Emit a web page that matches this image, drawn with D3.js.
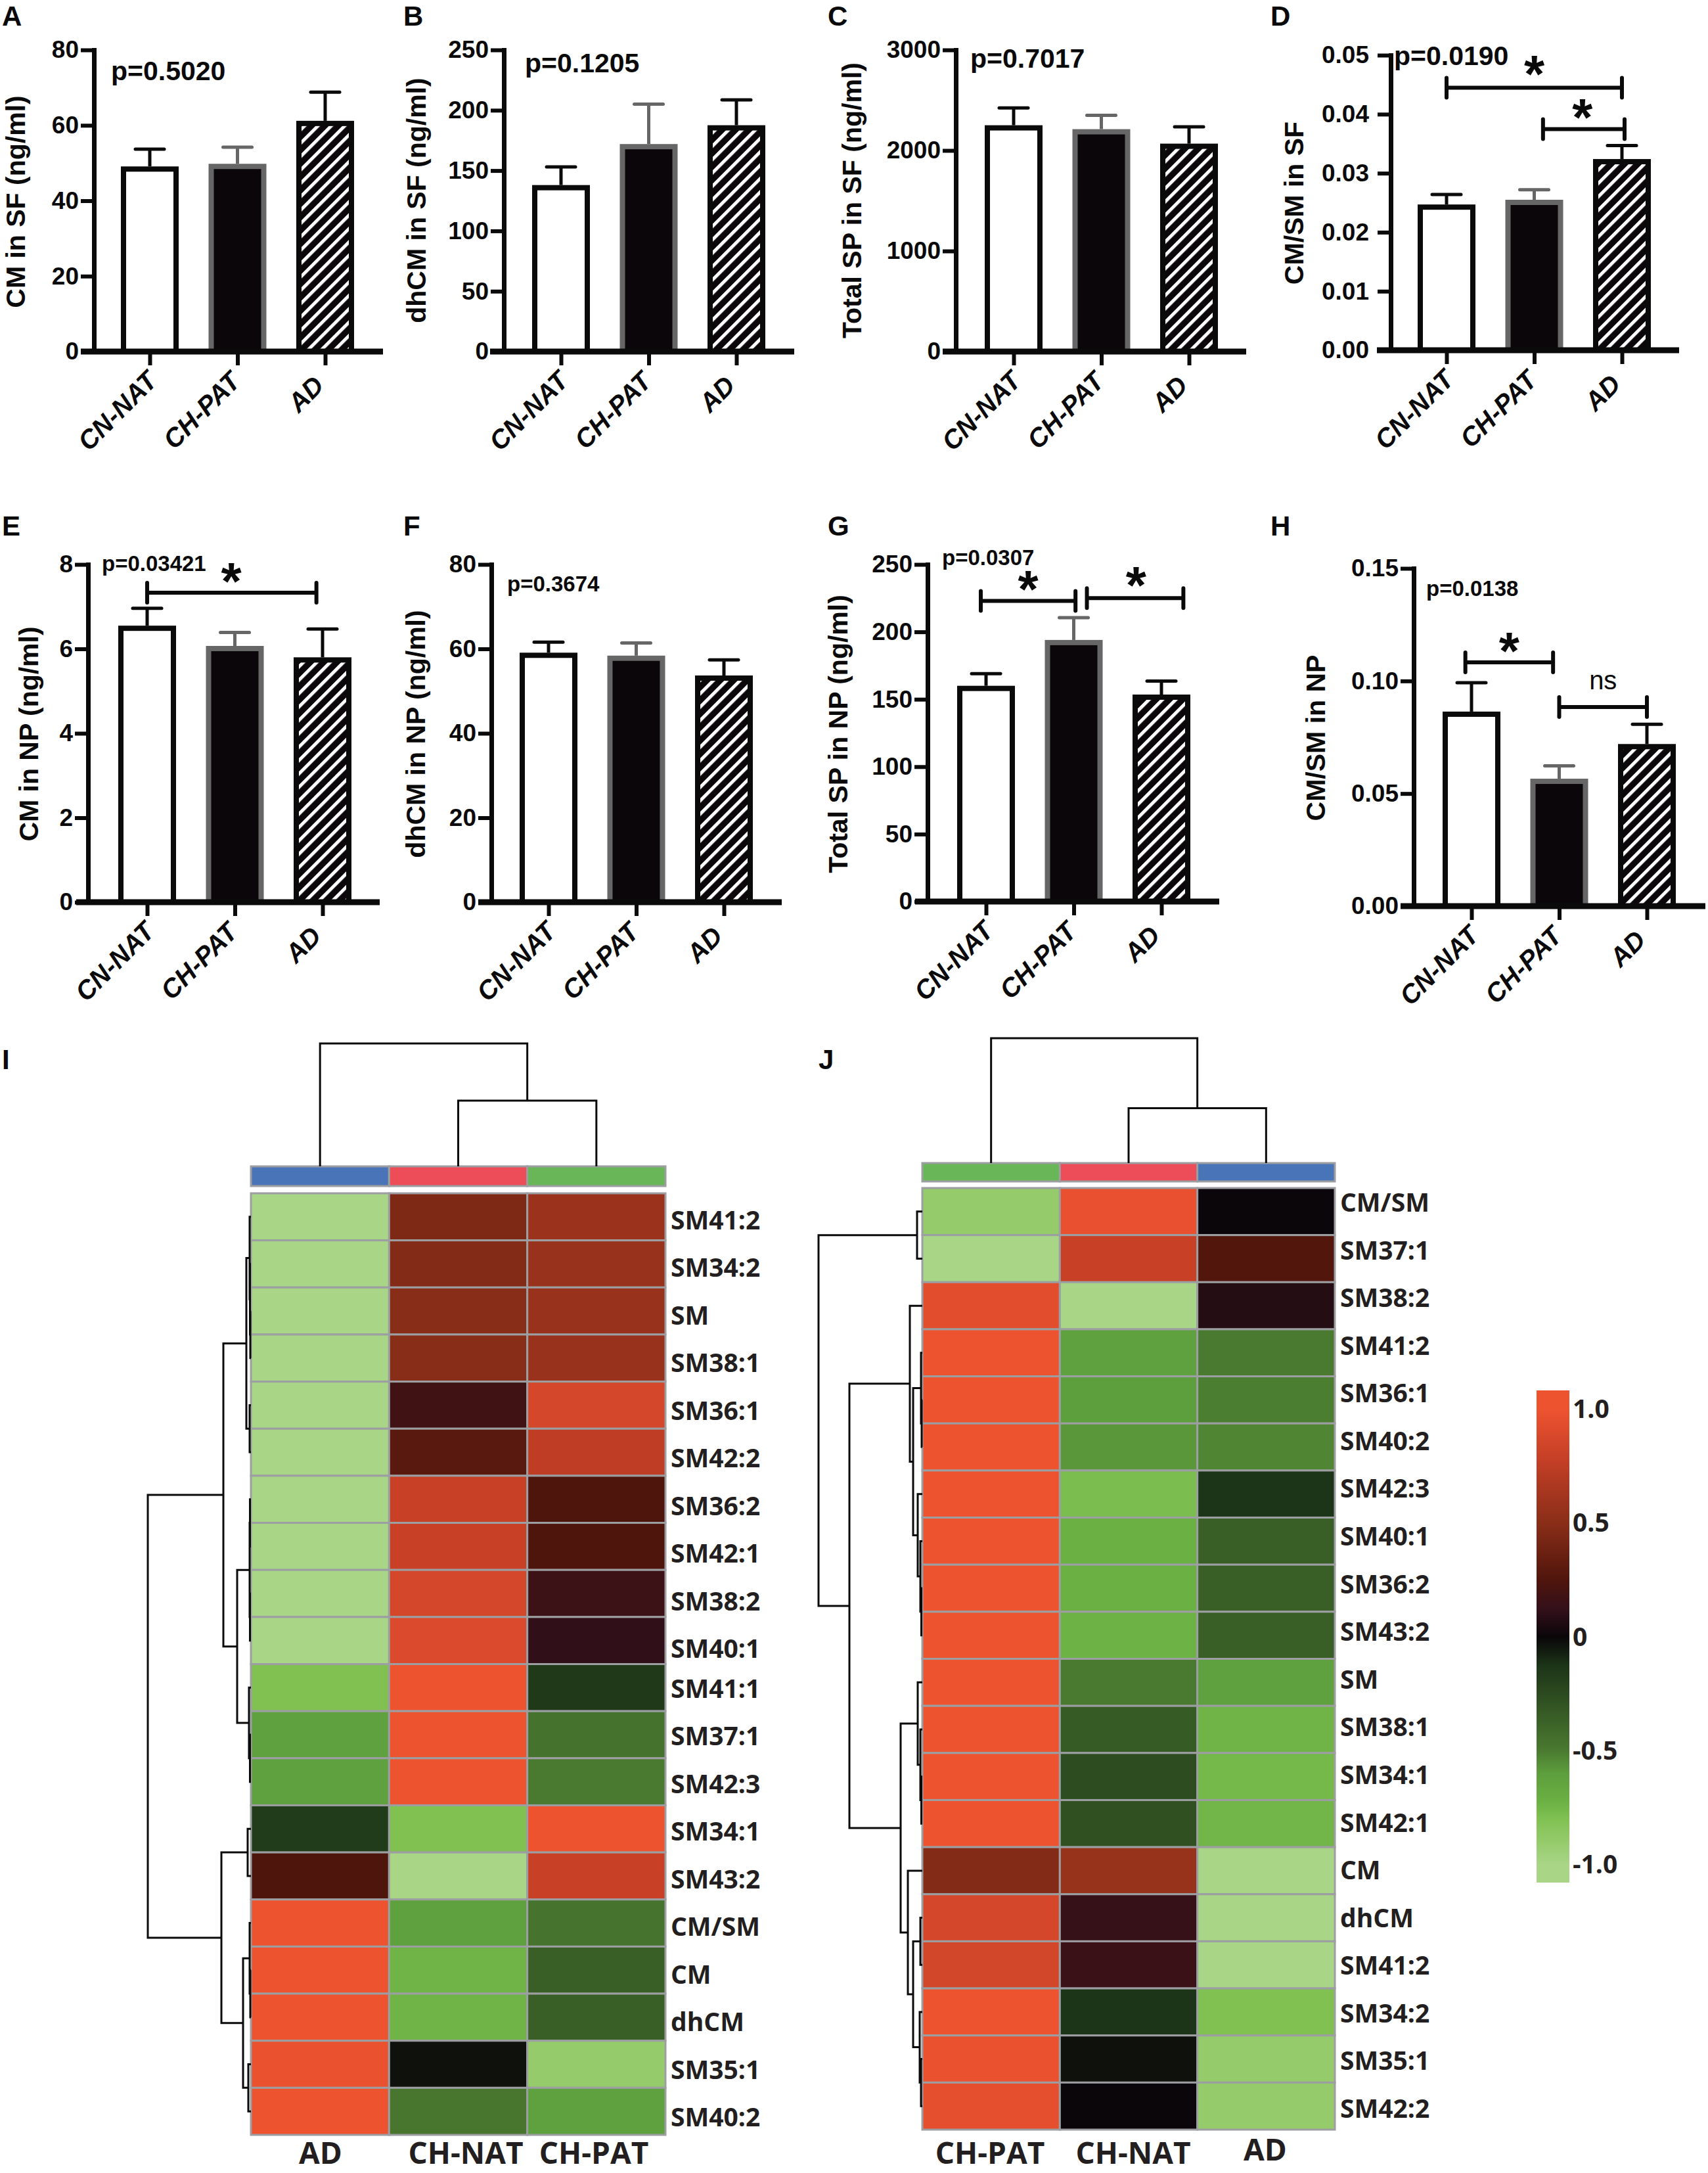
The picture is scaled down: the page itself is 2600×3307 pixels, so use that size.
<!DOCTYPE html>
<html lang="en">

<head>
    <meta charset="UTF-8">
    <title>CM, dhCM, SP bars and lipid heatmaps</title>
    <script src="https://d3js.org/d3.v7.min.js"></script>
    <style>
        body { margin: 0; background: #fff; }
        text { font-family: "Liberation Sans", Arial, sans-serif; fill: #0a0a0a; }
        .bold { font-weight: 700; }
        .hm text, text.hm { font-family: "Open Sans", sans-serif; font-weight: 700; fill: #231f20; }
    </style>
</head>

<body>

    <script>
        // ---- bar chart data ----
        const groups = ["CN-NAT", "CH-PAT", "AD"];

        const cmSF = [49.1, 49.8, 61.2], cmSFTop = [53.7, 54.2, 68.8];
        const dhcmSF = [138, 172, 187.6], dhcmSFTop = [153, 205, 208.6];
        const spSF = [2251, 2212, 2068], spSFTop = [2423, 2350, 2235];
        const ratioSF = [0.0247, 0.0255, 0.0324], ratioSFTop = [0.0264, 0.0272, 0.0347];
        const cmNP = [6.55, 6.07, 5.8], cmNPTop = [6.96, 6.39, 6.47];
        const dhcmNP = [59.1, 58.4, 53.7], dhcmNPTop = [61.6, 61.4, 57.4];
        const spNP = [160, 194, 153.5], spNPTop = [169, 210.5, 163.5];
        const ratioNP = [0.0864, 0.0566, 0.072], ratioNPTop = [0.0992, 0.0623, 0.0808];

        const ticks80 = [0, 20, 40, 60, 80];
        const ticks250 = [0, 50, 100, 150, 200, 250];
        const ticks3000 = [0, 1000, 2000, 3000];
        const ticks005 = [0, 0.01, 0.02, 0.03, 0.04, 0.05];
        const ticks8 = [0, 2, 4, 6, 8];
        const ticks015 = [0, 0.05, 0.10, 0.15];

        // ---- heatmap data ----
        const rowsI = ["SM41:2", "SM34:2", "SM", "SM38:1", "SM36:1", "SM42:2", "SM36:2", "SM42:1", "SM38:2", "SM40:1",
            "SM41:1", "SM37:1", "SM42:3", "SM34:1", "SM43:2", "CM/SM", "CM", "dhCM", "SM35:1", "SM40:2"];
        const colsI = ["AD", "CH-NAT", "CH-PAT"];
        const valuesI = [
            [-1, .45, .58], [-1, .47, .57], [-1, .49, .57], [-1, .49, .57], [-1, .18, .86],
            [-1, .29, .75], [-1, .8, .24], [-1, .8, .24], [-1, .86, .16], [-1, .9, .11],
            [-.8, 1, -.15], [-.62, 1, -.46], [-.62, 1, -.5], [-.17, -.8, 1], [.24, -1, .8],
            [1, -.62, -.47], [1, -.74, -.36], [1, -.74, -.36], [.98, -.03, -.9], [1, -.48, -.62]
        ];
        const rowsJ = ["CM/SM", "SM37:1", "SM38:2", "SM41:2", "SM36:1", "SM40:2", "SM42:3", "SM40:1", "SM36:2", "SM43:2",
            "SM", "SM38:1", "SM34:1", "SM42:1", "CM", "dhCM", "SM41:2", "SM34:2", "SM35:1", "SM42:2"];
        const colsJ = ["CH-PAT", "CH-NAT", "AD"];
        const valuesJ = [
            [-.9, .97, 0], [-1, .8, .26], [.93, -1, .08], [1, -.62, -.5], [1, -.6, -.51],
            [1, -.58, -.53], [1, -.78, -.13], [1, -.72, -.36], [1, -.72, -.36], [1, -.73, -.36],
            [1, -.5, -.62], [1, -.34, -.74], [1, -.26, -.76], [1, -.28, -.75], [.47, .56, -1],
            [.86, .14, -1], [.85, .15, -1], [1, -.13, -.8], [.98, -.03, -.9], [.96, 0, -.9]
        ];

        // dendrograms: [merge distance, child, child], a plain number is a leaf index
        const rowTreeI = [157,
            [42,
                [7, [2, 0, [1.5, 1, [1, 2, 3]]], [2, 4, 5]],
                [21, [2, [1.5, 6, 7], [1.5, 8, 9]], [3, 10, [1.5, 11, 12]]]],
            [45,
                [5, 13, 14],
                [12, [2, 15, [1, 16, 17]], [4, 18, 19]]]];
        const colTreeI = [187, 0, [100, 1, 2]];
        const rowTreeJ = [158,
            [8, 0, 1],
            [111,
                [19, 2, [14, [2, 3, [1, 4, 5]], [7, 6, [3, 7, [1.5, 8, 9]]]]],
                [33,
                    [7, 10, [3, 11, [1.5, 12, 13]]],
                    [22, 14, [14, [3, 15, 16], [4, 17, [2, 18, 19]]]]]]];
        const colTreeJ = [190, 0, [83.5, 1, 2]];

        const legendTicks = [1, 0.5, 0, -0.5, -1];
        const legendLabels = ["1.0", "0.5", "0", "-0.5", "-1.0"];
        const colorValues = [-1, -.9, -.8, -.72, -.6, -.5, -.25, -.13, 0, .12, .25, .5, .75, 1];
        const colorHex = ["#a8d586", "#95cb6b", "#80c152", "#6ab043", "#5d9e3d", "#4a7a30", "#2c4a1f", "#1c3518",
            "#0a0609", "#33101a", "#50150c", "#8a2e18", "#bf3d25", "#ee5330"];

        const groupColor = { "AD": "#4a74b8", "CH-NAT": "#ec4d58", "CH-PAT": "#68b657" };

        const color = d3.scaleLinear().domain(colorValues).range(colorHex).clamp(true);

        const svg = d3.select("body").append("svg")
            .attr("width", 2600)
            .attr("height", 3307);

        // hatch for the AD bars
        svg.append("defs").append("pattern")
            .attr("id", "hatch")
            .attr("patternUnits", "userSpaceOnUse")
            .attr("width", 14.4)
            .attr("height", 14.4)
            .attr("patternTransform", "rotate(45)")
            .call(p => {
                p.append("rect").attr("width", 14.4).attr("height", 14.4).attr("fill", "#0a0609");
                p.append("rect").attr("width", 5).attr("height", 14.4).attr("fill", "#fff");
            });

        const panels = [
            { id: "A", lx: 3, ly: 39, vals: cmSF, tops: cmSFTop, ticks: ticks80, fmt: "d", title: "CM in SF (ng/ml)",
                axisX: 143, yTop: 76, yBot: 535, t0: 228, left: 123, right: 583, titleX: 38, titleY: 307,
                p: "p=0.5020", px: 169, py: 122, ps: 41 },
            { id: "B", lx: 614, ly: 39, vals: dhcmSF, tops: dhcmSFTop, ticks: ticks250, fmt: "d", title: "dhCM in SF (ng/ml)",
                axisX: 767, yTop: 76, yBot: 535, t0: 854, left: 746, right: 1209, titleX: 648, titleY: 305,
                p: "p=0.1205", px: 799, py: 110, ps: 41 },
            { id: "C", lx: 1260, ly: 39, vals: spSF, tops: spSFTop, ticks: ticks3000, fmt: "d", title: "Total SP in SF (ng/ml)",
                axisX: 1455, yTop: 76, yBot: 535, t0: 1543, left: 1435, right: 1897, titleX: 1311, titleY: 305,
                p: "p=0.7017", px: 1477, py: 103, ps: 41 },
            { id: "D", lx: 1934, ly: 39, vals: ratioSF, tops: ratioSFTop, ticks: ticks005, fmt: ".2f", title: "CM/SM in SF",
                axisX: 2117, yTop: 84, yBot: 533, t0: 2202, left: 2096, right: 2556, titleX: 1984, titleY: 309, pad: 13,
                p: "p=0.0190", px: 2122, py: 99, ps: 41,
                brackets: [[0, 2, .0445], [1.1, 2.03, .03747]], stars: [[1, .0487], [1.55, .0414]] },
            { id: "E", lx: 3, ly: 815, vals: cmNP, tops: cmNPTop, ticks: ticks8, fmt: "d", title: "CM in NP (ng/ml)",
                axisX: 134, yTop: 859, yBot: 1373, t0: 224, left: 116, right: 578, titleX: 58, titleY: 1117,
                p: "p=0.03421", px: 155, py: 869, ps: 33,
                brackets: [[0, 1.93, 7.33]], stars: [[.96, 7.88]] },
            { id: "F", lx: 614, ly: 815, vals: dhcmNP, tops: dhcmNPTop, ticks: ticks80, fmt: "d", title: "dhCM in NP (ng/ml)",
                axisX: 748, yTop: 859, yBot: 1373, t0: 835, left: 728, right: 1190, titleX: 647, titleY: 1117,
                p: "p=0.3674", px: 772, py: 900, ps: 33 },
            { id: "G", lx: 1260, ly: 815, vals: spNP, tops: spNPTop, ticks: ticks250, fmt: "d", title: "Total SP in NP (ng/ml)",
                axisX: 1412, yTop: 859, yBot: 1372, t0: 1501, left: 1393, right: 1856, titleX: 1290, titleY: 1117,
                p: "p=0.0307", px: 1434, py: 860, ps: 33,
                brackets: [[-.06, 1.02, 223], [1.15, 2.25, 225]], stars: [[.48, 240], [1.71, 243]] },
            { id: "H", lx: 1934, ly: 815, vals: ratioNP, tops: ratioNPTop, ticks: ticks015, fmt: ".2f", title: "CM/SM in NP",
                axisX: 2152, yTop: 865, yBot: 1379, t0: 2240, left: 2132, right: 2596, titleX: 2017, titleY: 1123,
                p: "p=0.0138", px: 2171, py: 907, ps: 33,
                brackets: [[-.07, .93, .1083], [1, 2, .0884]], stars: [[.43, .1184]], ns: [1.5, .0962] }
        ];

        const barStyle = [
            { fill: "#fff", stroke: "#0a0a0a" },
            { fill: "#0a0609", stroke: "#666" },
            { fill: "url(#hatch)", stroke: "#0a0a0a" }
        ];
        const step = 133.5;
        // rotated x labels are not anchored the same way under each tick in the picture
        const xLabelShift = [[13, 47], [6, 48], [0, 54]];

        panels.forEach(drawBars);

        function drawBars(p) {
            const g = svg.append("g");
            const y = d3.scaleLinear().domain(d3.extent(p.ticks)).range([p.yBot, p.yTop]);
            const x = d3.scalePoint().domain(groups).range([p.t0, p.t0 + 2 * step]);
            const xPos = d3.scaleLinear().domain([0, 2]).range([p.t0, p.t0 + 2 * step]);

            g.append("text").attr("class", "bold").attr("x", p.lx).attr("y", p.ly)
                .style("font-size", "42px").text(p.id);

            // error bars sit behind the bars
            groups.forEach((name, i) => {
                const e = g.append("g").attr("stroke", barStyle[i].stroke).attr("stroke-width", 5);
                e.append("line").attr("x1", x(name)).attr("x2", x(name))
                    .attr("y1", y(p.vals[i])).attr("y2", y(p.tops[i]));
                e.append("line").attr("x1", x(name) - 22).attr("x2", x(name) + 22)
                    .attr("y1", y(p.tops[i])).attr("y2", y(p.tops[i]))
                    .attr("stroke-linecap", "round");
            });

            g.selectAll(".bar")
                .data(groups)
                .enter()
                .append("rect")
                .attr("class", "bar")
                .attr("x", d => x(d) - 40)
                .attr("width", 80)
                .attr("y", (d, i) => y(p.vals[i]) + 4)
                .attr("height", (d, i) => p.yBot - y(p.vals[i]) - 4)
                .attr("fill", (d, i) => barStyle[i].fill)
                .attr("stroke", (d, i) => barStyle[i].stroke)
                .attr("stroke-width", 8);

            // axes
            const yAxis = g.append("g")
                .attr("transform", `translate(${p.axisX},0)`)
                .call(d3.axisLeft(y).tickValues(p.ticks).tickSize(20).tickSizeOuter(0).tickPadding(p.pad || 3)
                    .tickFormat(d3.format(p.fmt)));
            yAxis.select(".domain").attr("stroke", "#0a0a0a").attr("stroke-width", 7).attr("stroke-linecap", "square");
            yAxis.selectAll(".tick line").attr("stroke", "#0a0a0a").attr("stroke-width", 6);
            yAxis.selectAll(".tick text").attr("class", "bold").style("font-size", "37px");

            g.append("line").attr("x1", p.left).attr("x2", p.right)
                .attr("y1", p.yBot).attr("y2", p.yBot)
                .attr("stroke", "#0a0a0a").attr("stroke-width", 9);

            const xAxis = g.append("g")
                .attr("transform", `translate(0,${p.yBot})`)
                .call(d3.axisBottom(x).tickSize(21).tickSizeOuter(0));
            xAxis.select(".domain").remove();
            xAxis.selectAll(".tick line").attr("stroke", "#0a0a0a").attr("stroke-width", 6);
            xAxis.selectAll(".tick text")
                .attr("class", "bold")
                .style("font-size", "40px")
                .style("font-style", "italic")
                .attr("text-anchor", "end")
                .attr("dy", 0)
                .attr("y", 0)
                .attr("transform", (d, i) => `translate(${xLabelShift[i][0]},${xLabelShift[i][1]}) rotate(-45)`);

            g.append("text").attr("class", "bold")
                .attr("transform", `translate(${p.titleX},${p.titleY}) rotate(-90)`)
                .attr("text-anchor", "middle")
                .style("font-size", "41px")
                .text(p.title);

            g.append("text").attr("class", "bold").attr("x", p.px).attr("y", p.py)
                .style("font-size", p.ps + "px").text(p.p);

            // significance brackets
            (p.brackets || []).forEach(b => {
                const path = d3.path();
                const x0 = xPos(b[0]), x1 = xPos(b[1]), yb = y(b[2]);
                path.moveTo(x0, yb - 15); path.lineTo(x0, yb + 15);
                path.moveTo(x1, yb - 15); path.lineTo(x1, yb + 15);
                g.append("path").attr("d", path.toString()).attr("stroke", "#0a0a0a")
                    .attr("stroke-width", 6).attr("stroke-linecap", "round");
                g.append("line").attr("x1", x0).attr("x2", x1).attr("y1", yb).attr("y2", yb)
                    .attr("stroke", "#0a0a0a").attr("stroke-width", 6);
            });
            (p.stars || []).forEach(s => {
                g.append("text").attr("class", "bold")
                    .attr("x", xPos(s[0])).attr("y", y(s[1]))
                    .attr("dy", "0.56em")
                    .attr("text-anchor", "middle")
                    .style("font-size", "80px").text("*");
            });
            if (p.ns) {
                g.append("text").attr("x", xPos(p.ns[0])).attr("y", y(p.ns[1]))
                    .attr("text-anchor", "middle").style("font-size", "40px").text("ns");
            }
        }

        // ---- heatmaps ----
        function toHierarchy(tree) {
            const root = d3.hierarchy(tree, d => Array.isArray(d) ? d.slice(1) : null);
            root.eachAfter(n => {
                n.h = n.children ? n.data[0] : 0;
            });
            return root;
        }

        function drawTree(g, tree, pos, dist, horizontal) {
            const root = toHierarchy(tree);
            root.eachAfter(n => {
                n.p = n.children ? d3.mean(n.children, c => c.p) : pos(n.data);
            });
            const path = d3.path();
            root.each(n => {
                if (!n.children) return;
                const [a, b] = n.children;
                if (horizontal) { // rows, tree to the left
                    path.moveTo(dist(a.h), a.p); path.lineTo(dist(n.h), a.p);
                    path.lineTo(dist(n.h), b.p); path.lineTo(dist(b.h), b.p);
                } else {
                    path.moveTo(a.p, dist(a.h)); path.lineTo(a.p, dist(n.h));
                    path.lineTo(b.p, dist(n.h)); path.lineTo(b.p, dist(b.h));
                }
            });
            g.append("path").attr("d", path.toString()).attr("fill", "none")
                .attr("stroke", "#0a0a0a").attr("stroke-width", 3);
        }

        function drawHeat(h) {
            const g = svg.append("g").attr("class", "hm");
            const x = d3.scaleBand().domain(h.cols).range(h.xRange);
            const y = d3.scaleBand().domain(d3.range(h.rows.length)).range(h.yRange);

            // column colour bar
            g.selectAll(".ann").data(h.cols).enter().append("rect")
                .attr("x", d => x(d)).attr("width", x.bandwidth())
                .attr("y", h.annY[0]).attr("height", h.annY[1] - h.annY[0])
                .attr("fill", d => groupColor[d])
                .attr("stroke", "#9c9ea1").attr("stroke-width", 3);

            h.values.forEach((row, i) => {
                g.selectAll(null).data(row).enter().append("rect")
                    .attr("x", (d, j) => x(h.cols[j]))
                    .attr("y", y(i))
                    .attr("width", x.bandwidth())
                    .attr("height", y.bandwidth())
                    .attr("fill", d => color(d))
                    .attr("stroke", "#9c9ea1")
                    .attr("stroke-width", 3);
            });

            // row labels do not line up exactly with the rows in the picture
            const labelY = d3.scaleLinear().domain(h.labelRows).range(h.labelBase);
            g.selectAll(".rowlab").data(h.rows).enter().append("text")
                .attr("x", h.xRange[1] + 8)
                .attr("y", (d, i) => labelY(i))
                .style("font-size", "39px")
                .text(d => d);

            h.colLabels.forEach((c, i) => {
                g.append("text").attr("x", c[0]).attr("y", c[1]).attr("text-anchor", "middle")
                    .style("font-size", "46px").text(h.cols[i]);
            });

            const rowCenter = i => y(i) + y.bandwidth() / 2;
            const colCenter = i => x(h.cols[i]) + x.bandwidth() / 2;
            drawTree(g, h.rowTree, rowCenter,
                d3.scaleLinear().domain([0, h.rowTree[0]]).range([h.xRange[0], h.xRange[0] - h.rowTree[0]]), true);
            drawTree(g, h.colTree, colCenter,
                d3.scaleLinear().domain([0, h.colTree[0]]).range([h.annY[0], h.annY[0] - h.colTree[0]]), false);

            svg.append("text").attr("class", "bold").attr("x", h.lx).attr("y", h.ly)
                .style("font-size", "42px").text(h.id);
        }

        drawHeat({
            id: "I", lx: 3, ly: 1627, rows: rowsI, cols: colsI, values: valuesI, rowTree: rowTreeI, colTree: colTreeI,
            xRange: [382, 1013], yRange: [1816, 3249], annY: [1775, 1805],
            labelRows: [0, 9, 10, 19], labelBase: [1871, 2523, 2584, 3236],
            colLabels: [[488, 3293], [709, 3293], [904, 3293]]
        });
        drawHeat({
            id: "J", lx: 1246, ly: 1627, rows: rowsJ, cols: colsJ, values: valuesJ, rowTree: rowTreeJ, colTree: colTreeJ,
            xRange: [1404, 2032], yRange: [1808, 3241], annY: [1770, 1798],
            labelRows: [0, 19], labelBase: [1844, 3223],
            colLabels: [[1507, 3293], [1725, 3293], [1926, 3288]]
        });

        // ---- colour legend ----
        const legendY = d3.scaleLinear().domain([1.08, -1.08]).range([2116, 2865]);
        const legendGrad = svg.select("defs").append("linearGradient")
            .attr("id", "legendGrad").attr("x1", 0).attr("x2", 0).attr("y1", 0).attr("y2", 1);
        legendGrad.selectAll("stop").data(colorValues.slice().reverse()).enter().append("stop")
            .attr("offset", d => (legendY(d) - 2116) / (2865 - 2116))
            .attr("stop-color", d => color(d));
        svg.append("rect").attr("x", 2339).attr("y", 2116).attr("width", 50).attr("height", 749)
            .attr("fill", "url(#legendGrad)");
        svg.selectAll(".legendLabel").data(legendTicks).enter().append("text")
            .attr("class", "hm")
            .attr("x", 2394)
            .attr("y", d => legendY(d) + 14)
            .style("font-size", "39px")
            .text((d, i) => legendLabels[i]);
    </script>
</body>

</html>
